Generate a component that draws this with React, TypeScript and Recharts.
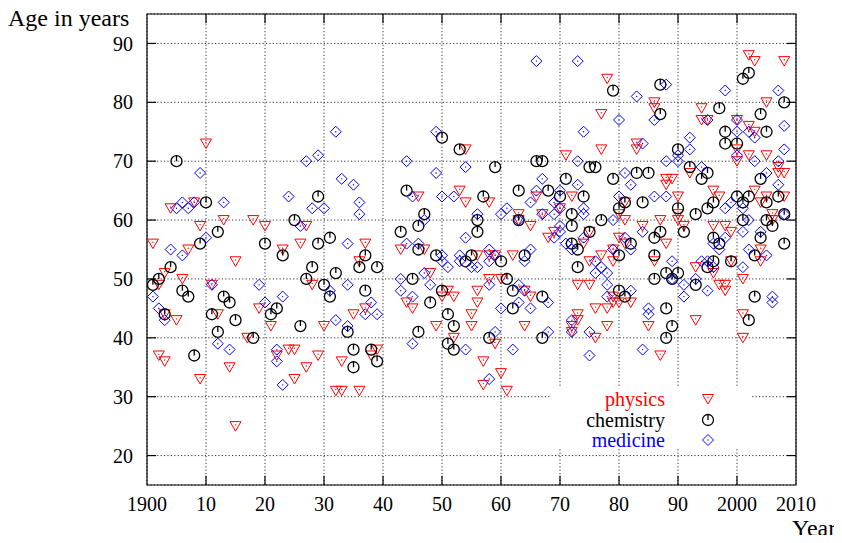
import React from "react";
import { CartesianGrid, ReferenceArea, ReferenceLine, Scatter, ScatterChart, XAxis, YAxis } from "recharts";

const xTicks = [1900, 1910, 1920, 1930, 1940, 1950, 1960, 1970, 1980, 1990, 2000, 2010];
const xTickLabels = ["1900", "10", "20", "30", "40", "50", "60", "70", "80", "90", "2000", "2010"];
const yTicks = [20, 30, 40, 50, 60, 70, 80, 90];

// [year, age at award]
const physics: [number, number][] = [
  [1901, 56], [1902, 49], [1902, 37], [1903, 51], [1903, 44], [1903, 36], [1904, 62], [1905, 43],
  [1906, 50], [1907, 55], [1908, 63], [1909, 59], [1909, 33], [1910, 73], [1911, 49], [1912, 44],
  [1913, 60], [1914, 35], [1915, 53], [1915, 25], [1917, 40], [1918, 60], [1919, 45], [1920, 59],
  [1921, 42], [1922, 37], [1923, 55], [1924, 38], [1925, 38], [1925, 33], [1926, 56], [1927, 59],
  [1927, 35], [1928, 49], [1929, 37], [1930, 42], [1932, 31], [1933, 31], [1933, 36], [1935, 44],
  [1936, 53], [1936, 31], [1937, 56], [1937, 45], [1938, 37], [1939, 38], [1943, 55], [1944, 46],
  [1945, 45], [1946, 64], [1947, 55], [1948, 51], [1949, 42], [1950, 47], [1951, 48], [1952, 47],
  [1952, 40], [1953, 65], [1954, 72], [1954, 63], [1955, 44], [1955, 42], [1956, 54], [1956, 48],
  [1956, 46], [1957, 36], [1957, 32], [1958, 63], [1958, 54], [1958, 50], [1959, 54], [1959, 39],
  [1960, 50], [1960, 34], [1961, 31], [1962, 54], [1963, 61], [1963, 60], [1964, 48], [1964, 42],
  [1965, 59], [1965, 47], [1966, 64], [1967, 61], [1968, 57], [1969, 58], [1970, 62], [1971, 71],
  [1972, 64], [1972, 42], [1972, 41], [1973, 49], [1973, 44], [1973, 43], [1974, 56], [1975, 58],
  [1975, 53], [1975, 49], [1976, 45], [1976, 40], [1977, 78], [1977, 72], [1977, 54], [1978, 84],
  [1978, 45], [1978, 42], [1979, 55], [1979, 53], [1979, 47], [1979, 46], [1980, 61], [1980, 57],
  [1980, 46], [1981, 63], [1981, 60], [1981, 56], [1982, 46], [1983, 73], [1983, 72], [1984, 59],
  [1985, 42], [1986, 80], [1986, 79], [1986, 53], [1987, 60], [1987, 37], [1988, 67], [1988, 66],
  [1988, 56], [1989, 67], [1990, 64], [1990, 61], [1990, 60], [1991, 59], [1992, 68], [1993, 52],
  [1993, 43], [1994, 79], [1994, 77], [1995, 77], [1996, 65], [1996, 59], [1996, 51], [1997, 64],
  [1997, 49], [1998, 59], [1998, 49], [1998, 48], [1999, 58], [1999, 53], [2000, 77], [2000, 72],
  [2000, 70], [2001, 50], [2001, 44], [2001, 40], [2002, 88], [2002, 76], [2002, 71], [2003, 87],
  [2003, 75], [2003, 65], [2004, 63], [2004, 55], [2004, 53], [2005, 80], [2005, 71], [2005, 64],
  [2006, 61], [2006, 60], [2007, 69], [2007, 68], [2008, 87], [2008, 68], [2008, 64],
];

const chemistry: [number, number][] = [
  [1901, 49], [1902, 50], [1903, 44], [1904, 52], [1905, 70], [1906, 48], [1907, 47], [1908, 37],
  [1909, 56], [1910, 63], [1911, 44], [1912, 58], [1912, 41], [1913, 47], [1914, 46], [1915, 43],
  [1918, 40], [1920, 56], [1921, 44], [1922, 45], [1923, 54], [1925, 60], [1926, 42], [1927, 50],
  [1928, 52], [1929, 64], [1929, 56], [1930, 49], [1931, 57], [1931, 47], [1932, 51], [1934, 41],
  [1935, 38], [1935, 35], [1936, 52], [1937, 54], [1937, 48], [1938, 38], [1939, 52], [1939, 36],
  [1943, 58], [1944, 65], [1945, 50], [1946, 59], [1946, 55], [1946, 41], [1947, 61], [1948, 46],
  [1949, 54], [1950, 74], [1950, 48], [1951, 44], [1951, 39], [1952, 42], [1952, 38], [1953, 72],
  [1954, 53], [1955, 54], [1956, 60], [1956, 58], [1957, 64], [1958, 40], [1959, 69], [1960, 53],
  [1961, 50], [1962, 48], [1962, 45], [1963, 65], [1963, 60], [1964, 54], [1966, 70], [1967, 70],
  [1967, 47], [1967, 40], [1968, 65], [1970, 64], [1971, 67], [1972, 61], [1972, 59], [1972, 56],
  [1973, 55], [1973, 52], [1974, 64], [1975, 69], [1975, 58], [1976, 69], [1977, 60], [1979, 82],
  [1979, 67], [1980, 62], [1980, 54], [1980, 48], [1981, 63], [1981, 47], [1982, 56], [1983, 68],
  [1984, 63], [1985, 68], [1986, 57], [1986, 54], [1986, 50], [1987, 83], [1987, 78], [1987, 58],
  [1988, 51], [1988, 45], [1988, 40], [1989, 50], [1989, 42], [1990, 72], [1990, 62], [1990, 51],
  [1991, 58], [1992, 69], [1993, 61], [1993, 49], [1994, 67], [1995, 68], [1995, 62], [1995, 52],
  [1996, 63], [1996, 57], [1996, 53], [1997, 79], [1997, 56], [1998, 75], [1998, 73], [1999, 53],
  [2000, 73], [2000, 64], [2001, 84], [2001, 63], [2001, 60], [2002, 85], [2002, 64], [2002, 43],
  [2003, 54], [2003, 47], [2004, 78], [2004, 67], [2004, 57], [2005, 75], [2005, 63], [2005, 60],
  [2006, 59], [2007, 64], [2008, 80], [2008, 61], [2008, 56],
];

const medicine: [number, number][] = [
  [1901, 47], [1902, 45], [1903, 43], [1904, 55], [1905, 62], [1906, 63], [1906, 54], [1907, 62],
  [1908, 63], [1909, 68], [1910, 57], [1911, 49], [1912, 39], [1913, 63], [1914, 38], [1919, 49],
  [1920, 46], [1922, 38], [1922, 36], [1923, 47], [1923, 32], [1924, 64], [1926, 59], [1927, 70],
  [1928, 62], [1929, 71], [1930, 62], [1931, 48], [1932, 75], [1932, 43], [1933, 67], [1934, 56],
  [1934, 49], [1934, 42], [1935, 66], [1936, 63], [1936, 61], [1937, 44], [1938, 46], [1939, 44],
  [1943, 50], [1943, 48], [1944, 70], [1944, 56], [1945, 64], [1945, 47], [1945, 39], [1946, 56],
  [1947, 60], [1947, 51], [1948, 49], [1949, 75], [1949, 68], [1950, 64], [1950, 54], [1950, 53],
  [1951, 52], [1952, 64], [1953, 54], [1953, 53], [1954, 69], [1954, 57], [1954, 38], [1955, 52],
  [1956, 61], [1956, 52], [1958, 55], [1958, 53], [1958, 49], [1958, 33], [1959, 54], [1959, 41],
  [1960, 61], [1960, 45], [1961, 62], [1962, 38], [1963, 60], [1963, 49], [1963, 46], [1964, 53],
  [1964, 48], [1965, 63], [1965, 55], [1965, 45], [1966, 87], [1966, 65], [1967, 67], [1967, 61],
  [1968, 46], [1968, 41], [1969, 63], [1969, 61], [1969, 57], [1970, 65], [1970, 62], [1970, 59],
  [1970, 58], [1971, 56], [1972, 55], [1972, 43], [1972, 41], [1973, 87], [1973, 70], [1973, 66],
  [1974, 75], [1974, 62], [1974, 61], [1974, 57], [1975, 41], [1975, 37], [1976, 53], [1976, 51],
  [1977, 52], [1978, 51], [1978, 49], [1978, 47], [1979, 60], [1979, 55], [1980, 77], [1980, 64],
  [1981, 68], [1981, 57], [1982, 66], [1982, 55], [1982, 48], [1983, 81], [1984, 73], [1984, 58],
  [1984, 38], [1985, 45], [1985, 44], [1986, 77], [1986, 64], [1988, 83], [1988, 70], [1988, 64],
  [1989, 53], [1989, 50], [1990, 71], [1990, 70], [1991, 49], [1991, 47], [1992, 74], [1992, 72],
  [1993, 50], [1994, 69], [1994, 53], [1995, 77], [1995, 53], [1995, 48], [1996, 56], [1996, 52],
  [1997, 55], [1998, 82], [1998, 62], [1998, 57], [1999, 63], [2000, 77], [2000, 75], [2000, 71],
  [2001, 62], [2001, 58], [2001, 52], [2002, 75], [2002, 60], [2002, 55], [2003, 74], [2003, 70],
  [2004, 58], [2005, 68], [2005, 54], [2006, 47], [2006, 46], [2007, 82], [2007, 70], [2007, 66],
  [2008, 76], [2008, 72], [2008, 61],
];

const toPoints = (rows: [number, number][]) => rows.map(([year, age]) => ({ year, age }));

const FONT = "'Liberation Serif', 'Times New Roman', serif";
const RED = "#ff0000";
const BLUE = "#0000ff";
const TICK = 1.55;

const TriangleDown = ({ cx, cy }: any) => (
  <g>
    <path d={`M${cx - 5.5},${cy - 4.5}L${cx + 5.5},${cy - 4.5}L${cx},${cy + 5}Z`} fill="none" stroke={RED} strokeWidth={1} />
    <circle cx={cx} cy={cy - 1.3} r={0.7} fill={RED} />
  </g>
);

const CircleTick = ({ cx, cy }: any) => (
  <g>
    <circle cx={cx} cy={cy} r={5.5} fill="none" stroke="#000" strokeWidth={1.3} />
    <line x1={cx} y1={cy - 5.5} x2={cx} y2={cy} stroke="#000" strokeWidth={1.3} />
  </g>
);

const Diamond = ({ cx, cy }: any) => (
  <g>
    <path d={`M${cx},${cy - 5.5}L${cx + 5.5},${cy}L${cx},${cy + 5.5}L${cx - 5.5},${cy}Z`} fill="none" stroke={BLUE} strokeWidth={1} />
    <circle cx={cx} cy={cy} r={0.7} fill={BLUE} />
  </g>
);

const legendItems = [
  { name: "physics", color: RED, Shape: TriangleDown },
  { name: "chemistry", color: "#000", Shape: CircleTick },
  { name: "medicine", color: BLUE, Shape: Diamond },
];

const titleStyle: React.CSSProperties = {
  position: "absolute",
  fontFamily: FONT,
  fontSize: 24,
  lineHeight: "18px",
  color: "#000",
  whiteSpace: "nowrap",
};

export default function App() {
  return (
    <div style={{ position: "relative", width: 826, height: 527, fontFamily: FONT }}>
      <ScatterChart width={826} height={527} margin={{ top: 6, right: 38, bottom: 0, left: 0 }}>
        <CartesianGrid stroke="#333" strokeDasharray="1.2 2.2" />
        <XAxis
          type="number"
          dataKey="year"
          domain={[1900, 2010]}
          ticks={xTicks}
          tickFormatter={(v: number) => xTickLabels[xTicks.indexOf(v)]}
          height={50}
          tickLine={false}
          axisLine={false}
          tickSize={6}
          tickMargin={6}
          tick={{ fontSize: 20, fill: "#000", fontFamily: FONT }}
        />
        <YAxis
          type="number"
          dataKey="age"
          domain={[15, 95]}
          ticks={yTicks}
          width={139}
          tickLine={false}
          axisLine={false}
          tickSize={6}
          tickMargin={8}
          tick={{ fontSize: 20, fill: "#000", fontFamily: FONT }}
        />
        <ReferenceArea x1={1900} x2={2010} y1={15} y2={95} fill="none" stroke="#000" strokeWidth={1.2} />
        {xTicks.slice(1, -1).map((t) => (
          <ReferenceLine key={`b${t}`} segment={[{ x: t, y: 15 }, { x: t, y: 15 + TICK }]} stroke="#000" strokeWidth={1.2} />
        ))}
        {xTicks.slice(1, -1).map((t) => (
          <ReferenceLine key={`t${t}`} segment={[{ x: t, y: 95 }, { x: t, y: 95 - TICK }]} stroke="#000" strokeWidth={1.2} />
        ))}
        {yTicks.map((t) => (
          <ReferenceLine key={`l${t}`} segment={[{ x: 1900, y: t }, { x: 1900 + TICK, y: t }]} stroke="#000" strokeWidth={1.2} />
        ))}
        {yTicks.map((t) => (
          <ReferenceLine key={`r${t}`} segment={[{ x: 2010, y: t }, { x: 2010 - TICK, y: t }]} stroke="#000" strokeWidth={1.2} />
        ))}
        <Scatter name="physics" data={toPoints(physics)} shape={TriangleDown} isAnimationActive={false} />
        <Scatter name="chemistry" data={toPoints(chemistry)} shape={CircleTick} isAnimationActive={false} />
        <Scatter name="medicine" data={toPoints(medicine)} shape={Diamond} isAnimationActive={false} />
      </ScatterChart>

      <div style={{ ...titleStyle, left: 0, top: 1 }}>Age in years</div>
      <div style={{ ...titleStyle, left: 784, top: 511 }}>Year</div>

      <div style={{ position: "absolute", left: 542, top: 378, width: 201, height: 63, background: "#fff" }}>
        {legendItems.map(({ name, color, Shape }, i) => (
          <div key={name} style={{ position: "absolute", left: 0, top: 3 + i * 20.5, width: 201, height: 20 }}>
            <span
              style={{
                position: "absolute",
                right: 86,
                top: 0,
                color,
                fontFamily: FONT,
                fontSize: 20,
                lineHeight: "20px",
                whiteSpace: "nowrap",
              }}
            >
              {name}
            </span>
            <svg style={{ position: "absolute", left: 150, top: 0 }} width={16} height={20}>
              <Shape cx={8} cy={10} />
            </svg>
          </div>
        ))}
      </div>
    </div>
  );
}
